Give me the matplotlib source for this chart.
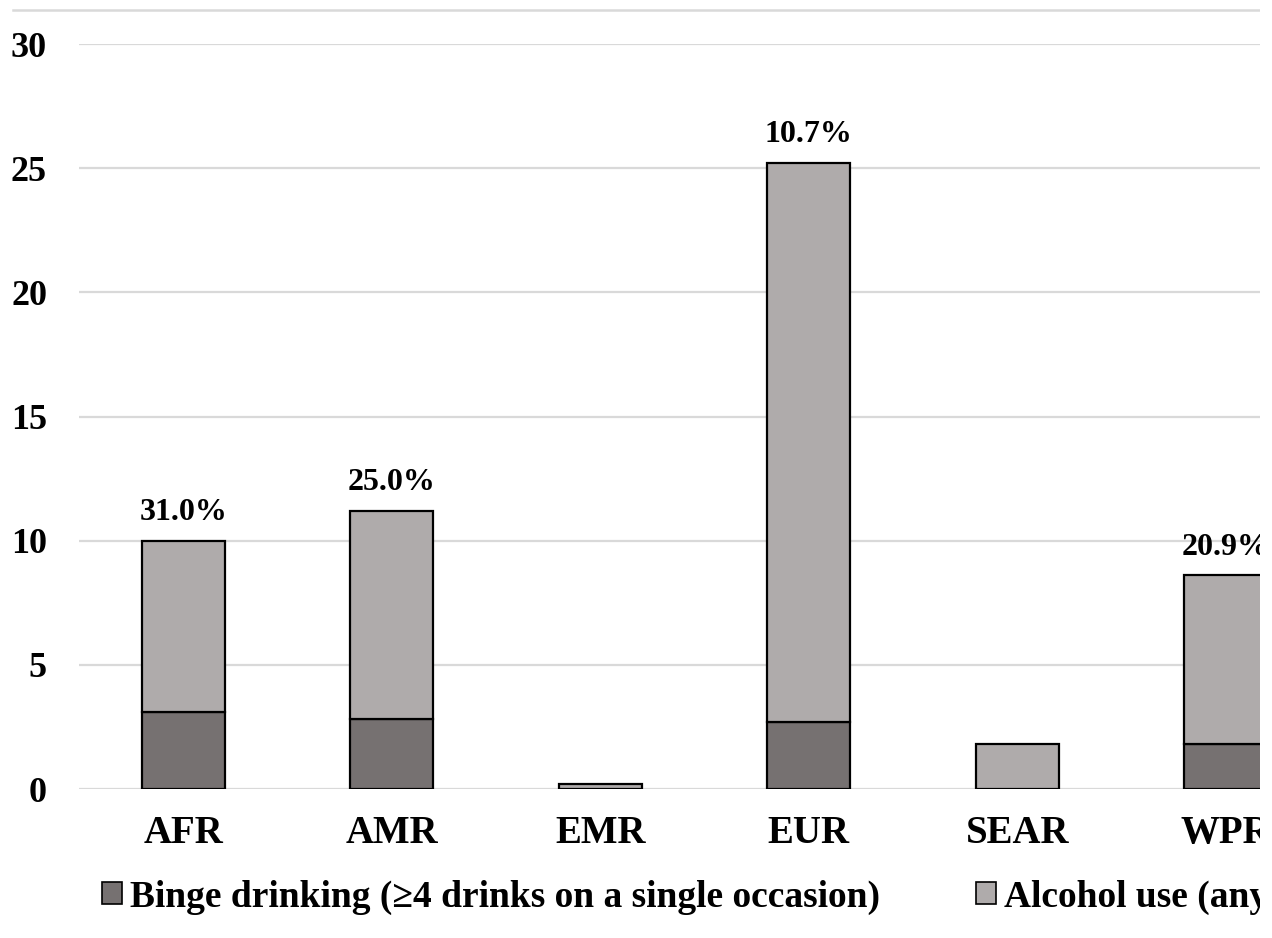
import matplotlib
matplotlib.use("Agg")
import matplotlib.pyplot as plt
from matplotlib.patches import Rectangle, Patch
from matplotlib.lines import Line2D

regions = ["AFR", "AMR", "EMR", "EUR", "SEAR", "WPR"]
alcohol_use = [10.0, 11.2, 0.2, 25.2, 1.8, 8.6]
binge = [3.1, 2.8, 0.0, 2.7, 0.0, 1.8]
y_ticks = [0, 5, 10, 15, 20, 25, 30]
legend_labels = ["Binge drinking (\u22654 drinks on a single occasion)",
                 "Alcohol use (any use in the past 30 days)"]

binge_color = "#767171"
alcohol_color = "#AFABAB"
grid_color = "#D9D9D9"

plt.rcParams["font.family"] = ["Liberation Serif", "DejaVu Serif"]
plt.rcParams["font.weight"] = "bold"

W, H = 1272, 938
fig = plt.figure(figsize=(W / 100, H / 100), dpi=100)
left, right, top, bottom = 79, 1330, 44, 789
ax = fig.add_axes([left / W, (H - bottom) / H, (right - left) / W, (bottom - top) / H])

x = list(range(len(regions)))
bw = 0.4
for i in x:
    if binge[i] > 0:
        ax.bar(i, binge[i], width=bw, color=binge_color, edgecolor="black",
               linewidth=1.6, zorder=3)
    ax.bar(i, alcohol_use[i] - binge[i], bottom=binge[i], width=bw,
           color=alcohol_color, edgecolor="black", linewidth=1.6, zorder=3)
    if binge[i] > 0:
        share = binge[i] / alcohol_use[i] * 100
        ax.annotate(f"{share:.1f}%", (i, alcohol_use[i]), xytext=(0, 15),
                    textcoords="offset points", ha="center", va="baseline",
                    fontsize=23, fontweight="bold")

ax.set_xlim(-0.5, 5.5)
ax.set_ylim(0, 30)
ax.set_yticks(y_ticks)
ax.set_xticks(x)
ax.set_xticklabels(regions)
ax.tick_params(axis="y", length=0, labelsize=26, pad=23)
ax.tick_params(axis="x", length=0, labelsize=28, pad=19)
for lab in ax.get_xticklabels() + ax.get_yticklabels():
    lab.set_fontweight("bold")
for s in ax.spines.values():
    s.set_visible(False)
ax.yaxis.grid(True, color=grid_color, linewidth=1.6, zorder=0)
ax.set_axisbelow(True)

handles = [Patch(facecolor=binge_color, edgecolor="black", linewidth=1.2),
           Patch(facecolor=alcohol_color, edgecolor="black", linewidth=1.2)]
fig.legend(handles, legend_labels, loc="center left",
           bbox_to_anchor=(102 / W, (H - 897) / H), ncol=2, frameon=False,
           prop={"size": 27, "weight": "bold"}, handlelength=0.53,
           handleheight=0.53, handletextpad=0.22, columnspacing=2.55,
           borderaxespad=0, borderpad=0)

fig.add_artist(Line2D([13 / W, 1], [(H - 10) / H] * 2, transform=fig.transFigure,
                      color=grid_color, linewidth=1.8, zorder=1))
fig.add_artist(Rectangle((1260 / W, 0), 12 / W, 1, transform=fig.transFigure,
                         facecolor="white", edgecolor="none", zorder=20))

fig.savefig("out.png", dpi=100, facecolor="white")
